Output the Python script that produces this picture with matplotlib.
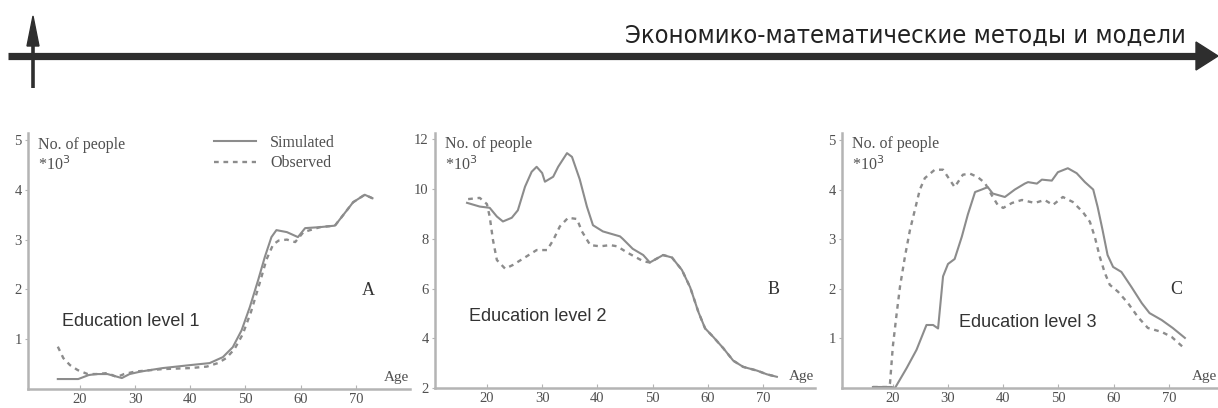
import matplotlib
matplotlib.use("Agg")
from matplotlib import pyplot as plt
from matplotlib.patches import Polygon

W, H = 1218, 408

header = "Экономико-математические методы и модели"
panel_letters = ["A", "B", "C"]
edu_labels = ["Education level 1", "Education level 2", "Education level 3"]
xticks = [20, 30, 40, 50, 60, 70]

# panel A
a_sim_age = [16, 19.7, 21.6, 23, 25, 27.6, 29, 31, 35, 40, 43.5, 45.9, 47.7, 49.3, 50.8, 52.3,
             53.5, 54.7, 55.6, 57.5, 59.5, 60.8, 63.5, 66.2, 67.4, 69.5, 71.6, 73]
a_sim = [0.2, 0.2, 0.28, 0.3, 0.3, 0.22, 0.3, 0.35, 0.42, 0.48, 0.52, 0.64, 0.84, 1.18, 1.65, 2.19,
         2.65, 3.05, 3.19, 3.15, 3.05, 3.23, 3.25, 3.28, 3.45, 3.75, 3.9, 3.83]
a_obs_age = [16, 17, 18.2, 19.6, 21.4, 23, 25, 26.7, 28, 30, 35, 40, 43, 45, 46.5, 48, 49.5, 51,
             52.5, 53.8, 55, 56, 57.5, 59, 60.5, 63.5, 66.2, 67.4, 69.5, 71.6, 73]
a_obs = [0.85, 0.62, 0.48, 0.38, 0.3, 0.3, 0.32, 0.24, 0.3, 0.35, 0.4, 0.42, 0.45, 0.52, 0.62, 0.8,
         1.1, 1.55, 2.1, 2.6, 2.9, 2.98, 3.0, 2.95, 3.15, 3.25, 3.28, 3.45, 3.75, 3.9, 3.83]

# panel B
b_sim_age = [16.4, 18.7, 20.5, 21.8, 22.9, 24.5, 25.6, 26.9, 28.1, 29, 30, 30.5, 32, 32.9, 34.5,
             35.4, 36.8, 38.1, 39.2, 41, 44.1, 44.6, 46.4, 48.3, 49.5, 51.9, 53.5, 55.3, 56.8,
             58.3, 59.5, 61, 62.8, 64.6, 66.4, 68.9, 70.7, 72.5]
b_sim = [9.45, 9.3, 9.25, 8.9, 8.7, 8.85, 9.15, 10.1, 10.7, 10.9, 10.65, 10.3, 10.5, 10.9, 11.45,
         11.3, 10.4, 9.3, 8.55, 8.3, 8.1, 8.0, 7.6, 7.35, 7.05, 7.35, 7.25, 6.75, 6.05,
         5.05, 4.4, 4.05, 3.6, 3.1, 2.85, 2.7, 2.55, 2.45]
b_obs_age = [16.6, 18.7, 20, 20.5, 21.1, 21.8, 23.3, 24.7, 26.5, 29, 30.9, 32, 33.2, 34.7, 36.3,
             37.2, 38.7, 40.5, 42.3, 43.6, 45.4, 48.3, 49.5, 51.9, 53.5, 55.3, 56.8, 58.3, 59.5,
             61, 62.8, 64.6, 66.4, 68.9, 70.7, 72.5]
b_obs = [9.6, 9.65, 9.4, 8.9, 7.95, 7.15, 6.8, 6.95, 7.2, 7.55, 7.55, 7.95, 8.5, 8.85, 8.8,
         8.3, 7.75, 7.7, 7.75, 7.7, 7.45, 7.1, 7.05, 7.35, 7.25, 6.75, 6.05, 5.05, 4.4,
         4.05, 3.6, 3.1, 2.85, 2.7, 2.55, 2.45]

# panel C
c_sim_age = [16.4, 19.8, 20.4, 22.5, 24.3, 26.1, 27.3, 28.2, 29.1, 30, 31.2, 32.5, 33.6, 34.9,
             36.1, 37.2, 38.1, 40.3, 42.1, 43.9, 44.5, 46.1, 47, 48.8, 49.9, 51.7, 53.3, 54.8,
             56.3, 57.1, 58, 58.9, 59.9, 61.4, 63.2, 65.1, 66.5, 68.7, 70.7, 72.9]
c_sim = [0.02, 0.02, 0, 0.4, 0.77, 1.27, 1.27, 1.2, 2.25, 2.5, 2.6, 3.05, 3.5, 3.95,
         4.0, 4.05, 3.92, 3.85, 4.0, 4.12, 4.15, 4.12, 4.2, 4.18, 4.35, 4.43, 4.33, 4.15,
         4.0, 3.65, 3.18, 2.68, 2.44, 2.34, 2.04, 1.71, 1.51, 1.37, 1.21, 1.01]
c_obs_age = [16.4, 19.2, 19.5, 20, 20.7, 21.3, 22.2, 23.1, 24, 24.9, 25.8, 27.6, 29.1, 30.3,
             31.2, 32.7, 34, 35.4, 36.7, 37.9, 39, 40, 41.6, 43.4, 45.7, 47.5, 49, 50.8, 52.6,
             54.4, 55.7, 56.6, 57.5, 58.4, 59.3, 60.8, 62.6, 64.4, 66.2, 68.7, 70.5, 72.5]
c_obs = [0.02, 0.02, 0.1, 0.83, 1.5, 2.04, 2.65, 3.18, 3.59, 4.0, 4.23, 4.4, 4.4, 4.2,
         4.05, 4.3, 4.32, 4.25, 4.13, 3.89, 3.69, 3.63, 3.73, 3.79, 3.73, 3.79, 3.69, 3.85, 3.75,
         3.55, 3.35, 3.04, 2.64, 2.32, 2.08, 1.94, 1.71, 1.43, 1.21, 1.13, 1.03, 0.83]

panels = [
    dict(sim=(a_sim_age, a_sim), obs=(a_obs_age, a_obs), yticks=[1, 2, 3, 4, 5],
         box=(28, 410, 133, 389), xlim=(10.6, 79.8), ylim=(0, 5.14), legend=True),
    dict(sim=(b_sim_age, b_sim), obs=(b_obs_age, b_obs), yticks=[2, 4, 6, 8, 10, 12],
         box=(435, 815, 133, 388), xlim=(10.6, 79.4), ylim=(2, 12.26), legend=False),
    dict(sim=(c_sim_age, c_sim), obs=(c_obs_age, c_obs), yticks=[1, 2, 3, 4, 5],
         box=(842, 1218, 133, 388), xlim=(10.8, 78.9), ylim=(0, 5.14), legend=False),
]

serif = "Liberation Serif"
sans = "Liberation Sans"
axis_col = "#b4b4b4"
line_col = "#8c8c8c"
txt_col = "#505050"

fig = plt.figure(figsize=(W / 100, H / 100), dpi=100)

# header arrows
hx = fig.add_axes([0, 0, 1, 1])
hx.set_xlim(0, W)
hx.set_ylim(H, 0)
hx.axis("off")
hx.plot([8, 1200], [56, 56], color="#2e2e2e", lw=5.2, solid_capstyle="butt")
hx.add_patch(Polygon([[1196, 42], [1218, 56], [1196, 70]], closed=True, color="#2e2e2e"))
hx.plot([33, 33], [40, 88], color="#2e2e2e", lw=2.6, solid_capstyle="butt")
hx.add_patch(Polygon([[27, 46], [33, 16], [39, 46]], closed=True, color="#2e2e2e"))
hx.text(1186, 36, header, ha="right", va="center", fontsize=18.3, color="#222222",
        family=["DejaVu Sans"], fontstretch="condensed")

for i, p in enumerate(panels):
    l, r, t, b = p["box"]
    ax = fig.add_axes([l / W, 1 - b / H, (r - l) / W, (b - t) / H])
    ax.set_xlim(*p["xlim"])
    ax.set_ylim(*p["ylim"])
    ax.patch.set_alpha(0)
    for s in ["top", "right"]:
        ax.spines[s].set_visible(False)
    for s in ["left", "bottom"]:
        ax.spines[s].set_color(axis_col)
        ax.spines[s].set_linewidth(1.8)
    ax.set_xticks(xticks)
    ax.set_yticks(p["yticks"])
    ax.tick_params(axis="x", direction="in", length=3, width=0.8, color=axis_col,
                   labelsize=10.5, labelcolor=txt_col, pad=3)
    ax.tick_params(axis="y", direction="out", length=2.5, width=0.8, color=axis_col,
                   labelsize=10.5, labelcolor=txt_col, pad=2)
    for lab in ax.get_xticklabels() + ax.get_yticklabels():
        lab.set_family(serif)

    sx, sy = p["sim"]
    ox, oy = p["obs"]
    ax.plot(sx, sy, color=line_col, lw=1.5, label="Simulated")
    ax.plot(ox, oy, color=line_col, lw=1.7, ls=(0, (2.0, 2.0)), label="Observed")

    ax.text(0.027, 0.955, "No. of people", transform=ax.transAxes, family=serif,
            fontsize=11.5, color=txt_col, va="center")
    ax.text(0.027, 0.875, r"*10$^3$", transform=ax.transAxes, family=serif,
            fontsize=11.5, color=txt_col, va="center")
    ax.text(0.89, 0.385, panel_letters[i], transform=ax.transAxes, family=serif,
            fontsize=13, color="#333333", ha="center", va="center")
    ax.text(0.997, 0.045, "Age", transform=ax.transAxes, family=serif,
            fontsize=11, color=txt_col, ha="right", va="center")
    ax.text([0.09, 0.09, 0.31][i], [0.265, 0.28, 0.255][i], edu_labels[i],
            transform=ax.transAxes, family=sans, fontsize=13, color="#333333",
            va="center")
    if p["legend"]:
        ax.legend(loc="upper left", bbox_to_anchor=(0.45, 1.05), frameon=False,
                  prop={"family": serif, "size": 11.5}, handlelength=2.6,
                  handletextpad=0.9, labelspacing=0.3, labelcolor=txt_col)

fig.savefig("out.png", dpi=100)
